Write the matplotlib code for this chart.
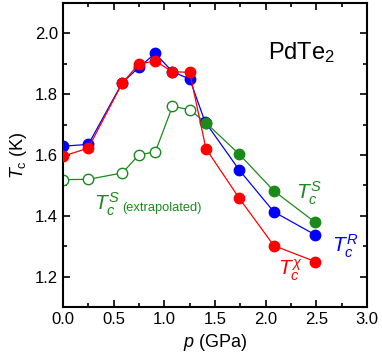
import matplotlib
matplotlib.use("Agg")
import matplotlib.pyplot as plt
from matplotlib.ticker import MultipleLocator

plt.rcParams['font.family'] = ['Liberation Sans', 'DejaVu Sans']
plt.rcParams['mathtext.fontset'] = 'custom'
plt.rcParams['mathtext.rm'] = 'Liberation Sans'
plt.rcParams['mathtext.it'] = 'Liberation Sans:italic'

# T_c^R (resistivity)
p_R = [0.0, 0.25, 0.585, 0.75, 0.91, 1.08, 1.25, 1.40, 1.74, 2.08, 2.49]
tc_R = [1.629, 1.635, 1.838, 1.889, 1.934, 1.874, 1.850, 1.710, 1.550, 1.413, 1.337]

# T_c^chi (susceptibility)
p_X = [0.0, 0.25, 0.585, 0.75, 0.91, 1.08, 1.25, 1.41, 1.74, 2.08, 2.49]
tc_X = [1.596, 1.623, 1.837, 1.900, 1.909, 1.874, 1.872, 1.621, 1.457, 1.302, 1.249]

# T_c^S (surface)
p_S = [1.41, 1.74, 2.08, 2.49]
tc_S = [1.706, 1.602, 1.482, 1.378]

# T_c^S extrapolated
p_Se = [0.0, 0.25, 0.585, 0.75, 0.91, 1.08, 1.25, 1.41]
tc_Se = [1.519, 1.520, 1.541, 1.601, 1.610, 1.760, 1.749, 1.706]

green = '#1a8a1a'
fig = plt.figure(figsize=(3.82, 3.58), dpi=100)
ax = fig.add_axes([0.165, 0.1425, 0.796, 0.849])

ax.plot(p_Se, tc_Se, '-o', color=green, mfc='white', mec=green, ms=7.5, lw=0.9, mew=1.0, zorder=2)
ax.plot(p_R, tc_R, '-o', color='#0000ff', ms=7.5, lw=0.9, zorder=3)
ax.plot(p_X, tc_X, '-o', color='#ff0000', ms=7.5, lw=0.9, zorder=4)
ax.plot(p_S, tc_S, '-o', color=green, ms=7.5, lw=0.9, zorder=5)

ax.set_xlim(0, 3.0)
ax.set_ylim(1.1, 2.1)
ax.xaxis.set_major_locator(MultipleLocator(0.5))
ax.xaxis.set_minor_locator(MultipleLocator(0.25))
ax.yaxis.set_major_locator(MultipleLocator(0.2))
ax.yaxis.set_minor_locator(MultipleLocator(0.1))
ax.tick_params(which='both', direction='in', top=True, right=True, width=1.2, labelsize=12)
ax.tick_params(which='major', length=5)
ax.tick_params(which='minor', length=3)
for s in ax.spines.values():
    s.set_linewidth(1.5)

ax.set_xlabel(r'$p$ (GPa)', fontsize=13)
ax.set_ylabel(r'$T_\mathrm{c}$ (K)', fontsize=13)

ax.text(2.35, 1.917, r'PdTe$_2$', fontsize=17, ha='center', va='baseline')
ax.text(2.30, 1.475, r'$T_c^S$', color=green, fontsize=15, ha='left', va='center')
ax.text(2.65, 1.30, r'$T_c^R$', color='#0000ff', fontsize=15, ha='left', va='center')
ax.text(2.12, 1.22, r'$T_c^{\chi}$', color='#ff0000', fontsize=15, ha='left', va='center')
ax.text(0.31, 1.438, r'$T_c^S$', color=green, fontsize=15, ha='left', va='center')
ax.text(0.58, 1.425, '(extrapolated)', color=green, fontsize=9.3, ha='left', va='center')

fig.savefig('out.png', dpi=100)
